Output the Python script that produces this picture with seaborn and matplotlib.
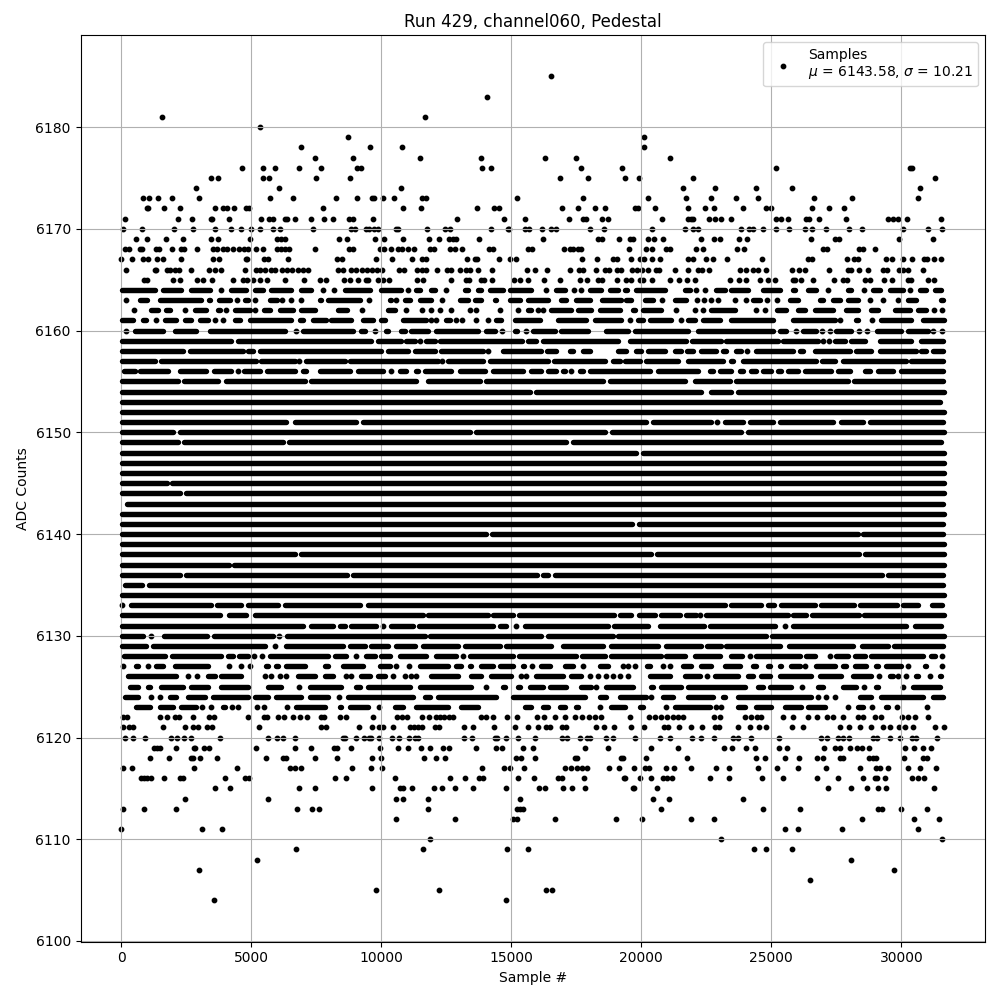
import matplotlib
matplotlib.use("Agg")
import matplotlib.pyplot as plt
import pandas as pd
import seaborn as sns

# sparse rows: individual samples, per ADC level
sparse_levels = [6185, 6183, 6181, 6180, 6179, 6178, 6177, 6176, 6175, 6174, 6173, 6172, 6171, 6170,
                 6169, 6168, 6167, 6166, 6165,
                 6122, 6121, 6120, 6119, 6118, 6117, 6116, 6115, 6114, 6113, 6112, 6111, 6110,
                 6109, 6108, 6107, 6106, 6105, 6104]
sparse_samples = [
    [16526],
    [14064],
    [1564, 11679],
    [5333],
    [8718, 20103],
    [6910, 9564, 10794, 20103],
    [7448, 8910, 11487, 13846, 16295, 17487, 21103],
    [4641, 5449, 5910, 6833, 7679, 9064, 9218, 13871, 14230, 17680, 19256, 25179, 30321, 30410],
    [3449, 3718, 5449, 5679, 7487, 8795, 16872, 17949, 19385, 19910, 21987, 31295],
    [2872, 6064, 10756, 21603, 22833, 24410, 25795, 30718],
    [833, 1064, 1410, 1949, 2987, 5718, 6602, 8256, 9064, 9641, 9705, 10064, 10487, 11564, 11718, 15218,
     17756, 20256, 21718, 22679, 23641, 24487, 26641, 28103, 30641],
    [987, 1038, 1641, 2256, 3602, 3910, 4064, 4333, 4795, 4897, 7756, 10833, 11525, 13679, 14333, 14525,
     16949, 17564, 18218, 18603, 19756, 19872, 20526, 21795, 22449, 22795, 23910, 24795, 24987, 26564,
     27218, 27795],
    [141, 2179, 2718, 3449, 3500, 4141, 5372, 5679, 5833, 6295, 6372, 6679, 7295, 7795, 8141, 8756, 8910,
     9679, 12910, 14718, 15525, 17218, 17756, 17872, 18487, 18718, 20795, 21795, 21910, 21987, 22603,
     22833, 23064, 23449, 25179, 25372, 25641, 26333, 26449, 26833, 27872, 29487, 29679, 29872, 30218, 31526],
    [64, 795, 2026, 2756, 3602, 4218, 4602, 4987, 5333, 5833, 6103, 7372, 8833, 8987, 9410, 9525, 9718,
     9872, 10564, 10641, 11756, 12449, 12641, 14218, 14872, 14923, 15525, 15679, 16180, 16526, 16718,
     18026, 18564, 20410, 21679, 21987, 22180, 23833, 24141, 24295, 24680, 25179, 25680, 26295, 26564,
     27103, 27987, 28487, 30064, 31026, 31564],
    [564, 987, 1718, 2372, 3449, 3718, 4949, 5987, 6141, 6295, 8372, 8679, 9756, 10102, 10833, 11833,
     12218, 12600, 12756, 12871, 13756, 16218, 18333, 18487, 19141, 19564, 19680, 20256, 20487, 20833,
     22295, 22795, 23026, 23756, 24064, 26526, 27449, 27603, 29910, 31218],
    [141, 295, 718, 795, 1333, 1449, 1949, 2295, 2410, 2910, 3525, 3680, 3910, 4064, 4295, 4525, 4718,
     4872, 5179, 5449, 5987, 6141, 6295, 6449, 7449, 8756, 8910, 9948, 10102, 10372, 10641, 10794, 11013,
     11256, 11871, 12026, 12641, 12833, 13102, 14141, 14295, 15641, 15795, 17026, 17256, 17372, 17564,
     17680, 19526, 20180, 20410, 20949, 21103, 22103, 22372, 23680, 23949, 26987, 27141, 28372, 28526, 28987],
    [0, 410, 833, 1026, 1372, 1603, 2295, 3525, 3756, 4795, 4833, 5487, 5641, 6410, 8295, 8487, 9795,
     10410, 11180, 11564, 11718, 13295, 13603, 13679, 14525, 14949, 15180, 17718, 18295, 18910, 19064,
     19603, 19949, 20103, 20410, 20718, 21795, 21987, 22487, 22756, 23295, 24641, 26410, 26564, 27910,
     28180, 28333, 29410, 29641, 30064, 30410, 30872, 30987, 31256, 31526],
    [180, 1295, 1333, 1756, 1872, 2064, 2218, 2680, 3372, 3602, 3833, 4756, 5179, 5333, 5525, 5756, 5910,
     6180, 6372, 6564, 6795, 6987, 7180, 8333, 8525, 8833, 9025, 9256, 9449, 9641, 9833, 10026, 10679,
     10871, 11372, 11564, 11718, 12141, 12526, 12679, 13026, 13256, 13410, 13718, 14256, 15603, 15910,
     16372, 17256, 17603, 17756, 18256, 18603, 18756, 19064, 19218, 19641, 19833, 20026, 20256, 20564,
     20679, 21295, 21795, 22180, 22333, 22603, 23795, 24026, 24295, 24487, 24795, 25795, 26064, 26295,
     27218, 27949, 28064, 28372, 28718, 29295, 29449, 29910, 30064, 30256, 30833],
    [872, 987, 1987, 2256, 2910, 3141, 3487, 4295, 4680, 4833, 5064, 5333, 5603, 6295, 7026, 7641, 7872,
     8564, 8795, 9103, 9410, 9487, 9872, 10064, 10295, 11372, 11603, 12679, 13256, 13372, 13833, 13949,
     14256, 15103, 15333, 15641, 16256, 16872, 17641, 17910, 18333, 18487, 19064, 19410, 19603, 19949,
     20064, 20410, 21103, 21449, 21756, 22064, 23410, 23756, 24026, 24564, 24872, 25141, 25833, 25910,
     26141, 26603, 27410, 27756, 27910, 28603, 28795, 29333, 29641, 30256, 30372, 31026, 31256],
    [64, 218, 1487, 1756, 2064, 2218, 2756, 3372, 3564, 4872, 5487, 5603, 6026, 6256, 6602, 6872, 7141,
     7680, 7795, 8410, 8641, 9679, 10603, 10795, 10987, 11564, 11833, 12103, 12256, 12410, 12603, 12756,
     13833, 14026, 14295, 14833, 15218, 15987, 16256, 16679, 17064, 17449, 17718, 17987, 18218, 18449,
     19551, 20295, 20526, 20756, 20987, 21218, 21410, 21603, 22795, 23026, 23987, 24218, 24449, 24603,
     25449, 25833, 26410, 26756, 27141, 27372, 27756, 28333, 28526, 28987, 29218, 30026, 30256, 30526, 31026],
    [64, 295, 449, 1603, 2449, 2756, 2948, 3295, 3487, 5295, 7680, 7872, 9141, 9641, 9910, 10064, 10449,
     11102, 11256, 11410, 11564, 12064, 12218, 13179, 13526, 14333, 15141, 15641, 16026, 16333, 16487,
     16949, 17103, 18256, 18564, 18949, 19603, 20103, 20872, 21026, 21449, 21910, 22333, 22833, 22987,
     23718, 24180, 24526, 24795, 25795, 26218, 27641, 27987, 28410, 28833, 29295, 29564, 29910, 30141,
     30449, 31295, 31641],
    [141, 449, 910, 1910, 2141, 2410, 2680, 3795, 5641, 5987, 6218, 6679, 8525, 8603, 9013, 9333, 9525,
     9603, 9910, 10410, 10679, 11064, 11295, 11410, 13179, 13487, 14372, 14449, 14795, 15256, 15910, 16949,
     17141, 17641, 17910, 18026, 18641, 18910, 19756, 20718, 21103, 21949, 22295, 22795, 23525, 23718,
     24218, 25295, 26910, 27141, 27564, 27756, 27987, 28910, 29064, 29564, 29948, 30410, 30564, 31372],
    [1256, 1372, 1487, 2103, 2795, 2833, 3179, 3372, 5179, 6679, 7295, 8179, 8295, 8833, 9948, 10641,
     11026, 11525, 11871, 12372, 12603, 13641, 14410, 14641, 15449, 15833, 17833, 18718, 20372, 21410,
     23180, 23487, 24026, 24372, 25295, 25603, 27026, 27449, 27641, 28013, 28295, 28487, 28756, 30141,
     30487, 30833, 31141],
    [1103, 1833, 2680, 2756, 3026, 3680, 5564, 6218, 6333, 7448, 8295, 9641, 9987, 11641, 12103, 12449,
     15180, 15372, 15910, 17449, 17526, 19218, 19295, 20180, 21756, 24410, 24756, 25538, 26064, 26756,
     26987, 27641, 27756, 28756, 28910, 29026, 30103, 30833, 30987],
    [64, 410, 2795, 4449, 6487, 6679, 6910, 8872, 9603, 10026, 13871, 14718, 14949, 15487, 17064, 17295,
     17526, 17718, 17910, 18756, 19141, 19718, 20141, 20295, 20949, 21256, 21923, 22872, 23372, 24487,
     25218, 26026, 27103, 28410, 29026, 29180, 29487, 30256, 30718, 31333],
    [756, 872, 987, 1141, 1641, 2256, 2372, 3987, 4756, 4910, 8218, 8641, 10526, 12641, 13218, 13756,
     13910, 15256, 15872, 16795, 16949, 17795, 19333, 19372, 19949, 20359, 20833, 20987, 21180, 22641,
     23372, 24641, 25449, 26756, 27564, 28526, 28987, 29064, 29372, 30410, 30641, 30872],
    [3602, 4179, 6833, 7448, 9641, 10718, 10833, 11180, 12026, 12333, 12833, 13526, 14795, 16064, 16295,
     16987, 17333, 17833, 19680, 19718, 20603, 27180, 28064, 28679, 29103, 29410, 31256],
    [2449, 5641, 10564, 10833, 11795, 15333, 20449, 21064, 23910],
    [64, 872, 2103, 6756, 7333, 7603, 11795, 15218, 15333, 15449, 20756, 24680, 26103, 29103, 29256,
     29987, 30987],
    [10564, 12833, 15064, 15218, 16679, 19026, 20026, 21910, 22795, 28487, 30487, 31449],
    [0, 3103, 3872, 25525, 26026, 27718, 30641],
    [11871, 23064, 31564],
    [6718, 11602, 14833, 15641, 24333, 24795, 25795],
    [5218, 28064],
    [2987, 29718],
    [26487],
    [9795, 12218, 16321, 16551],
    [3564, 14795],
]

# dense rows: the dots merge into runs, kept as (left edge, right edge) of each blob
dense_levels = list(range(6164, 6122, -1))
dense_runs = [
    [(0, 1346), (1538, 2372), (2628, 3461), (3846, 3846), (4167, 4872), (5064, 5513), (5705, 6602), (6859, 7372),
     (7756, 7756), (8179, 8179), (8525, 9615), (9936, 10833), (11026, 11026), (11282, 11538), (11859, 12115),
     (12500, 12500), (13141, 13397), (13654, 13910), (14100, 14743), (14872, 15833), (16346, 16346), (16667, 17115),
     (17410, 17410), (17680, 17680), (17949, 18525), (18718, 19167), (19295, 19513), (19744, 20962), (21603, 21923),
     (22115, 22115), (22462, 22462), (22820, 23269), (23397, 24167), (24615, 25385), (25769, 25962), (26346, 26795),
     (27179, 27179), (27885, 28141), (28564, 28564), (28846, 29231), (29487, 30128), (30346, 30346), (30641, 31026),
     (31218, 31603)],
    [(180, 180), (641, 1064), (1410, 3141), (3295, 3474), (3680, 4256), (4449, 4449), (4679, 4936), (5141, 5141),
     (5641, 6064), (6167, 6167), (6538, 6538), (6910, 6910), (7564, 7756), (7884, 9230), (9525, 9525), (10256, 10449),
     (10577, 10577), (10833, 11154), (11410, 11987), (12333, 12333), (12603, 12756), (12949, 13397), (13526, 13884),
     (14295, 14487), (14872, 15385), (15577, 16474), (16833, 17179), (17436, 18077), (18423, 19295), (19359, 19680),
     (20064, 20513), (20795, 20795), (21218, 21769), (22141, 22141), (22410, 22410), (22679, 22679), (22949, 22949),
     (23603, 23603), (24038, 24038), (24230, 24615), (24833, 24833), (25231, 25231), (25641, 26090), (26795, 27051),
     (27308, 27692), (27885, 28397), (28795, 28795), (29295, 29295), (29871, 29871), (30192, 30641), (31474, 31667)],
    [(64, 218), (487, 487), (1064, 1474), (1667, 1923), (2449, 2449), (2756, 3333), (3654, 3846), (4025, 4025),
     (4295, 5000), (5141, 5141), (5410, 5769), (6025, 6667), (6859, 7500), (8269, 8756), (9256, 9256), (10192, 10577),
     (10948, 10948), (11564, 11564), (11923, 11923), (12269, 12269), (12692, 12692), (13397, 13397), (13654, 13654),
     (14564, 14564), (14872, 15000), (15269, 15269), (15577, 15808), (16026, 16026), (16218, 16218), (16474, 17372),
     (17500, 18141), (18333, 19231), (19615, 19808), (20000, 20833), (21333, 21333), (21731, 21859), (22077, 22077),
     (22372, 22372), (22628, 23654), (24423, 24423), (24756, 24756), (25167, 25641), (25962, 26346), (26603, 27436),
     (27821, 28397), (28782, 29167), (29679, 30385), (30577, 31026), (31269, 31269), (31564, 31564)],
    [(0, 513), (769, 1026), (1346, 1346), (1603, 2180), (2372, 2756), (2949, 3397), (3602, 3602), (3910, 3910),
     (4295, 4615), (4872, 6602), (6795, 7051), (7308, 7948), (8013, 8910), (9231, 9743), (9936, 10192), (10769, 11795),
     (11923, 11923), (12115, 12115), (12436, 12692), (12885, 12885), (13103, 13103), (13654, 13654), (14103, 14103),
     (14359, 14679), (15064, 16154), (16731, 17949), (18141, 19295), (19551, 19551), (19808, 20128), (20256, 21218),
     (21538, 21538), (21731, 22115), (22308, 23077), (23397, 25128), (25449, 25577), (25769, 27500), (27654, 27654),
     (28205, 28397), (28872, 28872), (29167, 30449), (30769, 31730)],
    [(180, 180), (449, 1667), (1987, 2949), (3333, 6346), (6705, 6705), (6923, 8974), (9167, 9423), (9769, 9769),
     (10128, 10321), (10705, 10962), (11090, 11859), (12051, 13782), (13974, 14423), (14654, 14654), (15064, 15295),
     (15577, 15577), (15769, 16731), (16859, 18013), (18590, 19551), (19680, 21859), (22115, 25128), (25256, 25641),
     (25962, 25962), (26154, 26795), (26949, 26949), (27244, 27244), (27436, 28141), (28359, 28359), (28680, 28680),
     (29013, 30064), (30192, 31090), (31231, 31231), (31577, 31577)],
    [(0, 4295), (4423, 9679), (9808, 10833), (10897, 11346), (11474, 11474), (11654, 12115), (12180, 15474),
     (15577, 16026), (16154, 19167), (19487, 21795), (21900, 23141), (23205, 25320), (25385, 26859), (26987, 26987),
     (27205, 27205), (27372, 27885), (28013, 28654), (29103, 30449), (30705, 31667)],
    [(0, 2436), (2590, 4743), (4808, 5128), (5256, 10064), (10192, 11090), (11218, 12115), (12243, 13974),
     (14103, 14103), (14615, 16218), (16308, 16795), (17180, 17436), (17692, 18077), (19038, 19487), (19744, 20064),
     (20192, 20962), (21244, 21603), (21705, 22051), (22244, 22949), (23077, 23333), (23590, 23910), (24064, 24064),
     (24359, 25897), (26026, 26282), (26603, 28077), (28205, 28910), (29103, 30641), (30705, 31026), (31154, 31667)],
    [(0, 1346), (1474, 5256), (5320, 6730), (6833, 6833), (7051, 8654), (8743, 12243), (12346, 12346), (12500, 13974),
     (14103, 16474), (16577, 18654), (18846, 19231), (19295, 20000), (20128, 21474), (21731, 23205), (23372, 23590),
     (23846, 26795), (26885, 27500), (27692, 30256), (30320, 31667)],
    [(38, 577), (641, 1859), (2180, 3333), (3500, 4295), (4487, 4487), (4641, 5385), (5551, 6730), (6923, 7180),
     (7564, 8846), (9038, 10128), (10359, 10359), (10641, 11026), (11282, 11474), (11602, 12756), (12949, 14038),
     (14231, 15513), (15705, 16218), (16346, 16795), (16923, 17115), (17308, 17308), (17564, 17820), (17949, 20385),
     (20577, 22244), (22564, 22821), (22949, 23526), (23718, 23974), (24167, 24487), (24615, 25064), (25192, 25449),
     (25577, 26090), (26218, 27372), (27500, 28077), (28526, 28846), (29038, 29744), (29936, 31667)],
    [(0, 2244), (2346, 3782), (3974, 7116), (7244, 11410), (11730, 13846), (13974, 18590), (18718, 21731),
     (22013, 23461), (23590, 28013), (28115, 31667)],
    [(0, 15769), (15897, 22372), (22603, 23526), (23654, 31730)],
    [(0, 31538)],
    [(0, 31680)],
    [(0, 6410), (6628, 9102), (9231, 20256), (20385, 22756), (22910, 22910), (23141, 23974), (24103, 25128),
     (25256, 27436), (27628, 28590), (28718, 31667)],
    [(0, 2064), (2205, 13460), (13590, 18650), (18800, 23910), (24025, 31730)],
    [(0, 2244), (2346, 6282), (6372, 17170), (17310, 31580)],
    [(0, 19850), (19990, 31680)],
    [(0, 31700)],
    [(0, 31680)],
    [(0, 1800), (1900, 31700)],
    [(0, 2300), (2440, 31700)],
    [(170, 31650)],
    [(0, 31700)],
    [(0, 19700), (19840, 31650)],
    [(0, 14080), (14200, 28380), (28480, 31660)],
    [(0, 31680)],
    [(0, 6750), (6840, 20440), (20540, 28440), (28540, 31700)],
    [(0, 4190), (4270, 31680)],
    [(0, 2320), (2440, 8730), (8840, 16030), (16150, 16480), (16600, 29330), (29440, 31650)],
    [(64, 872), (1000, 31650)],
    [(0, 31700)],
    [(38, 38), (320, 3525), (3628, 4680), (4808, 6090), (6218, 9230), (9423, 23270), (23400, 24680), (24800, 25170),
     (25320, 26740), (26860, 28240), (28360, 29900), (30000, 30700), (31120, 31640)],
    [(0, 3846), (4090, 4872), (5064, 11667), (11730, 14167), (14231, 15128), (15218, 19013), (19103, 19680),
     (19833, 20577), (20705, 21539), (21667, 22180), (22270, 22270), (22436, 25705), (25770, 26410), (26500, 28423),
     (28500, 31730)],
    [(0, 7051), (7244, 8205), (8333, 8654), (8756, 9872), (10064, 10064), (10320, 11282), (11372, 14359),
     (14487, 14872), (15192, 15192), (15474, 18782), (18885, 20320), (20640, 22474), (22564, 25190), (25513, 25513),
     (25770, 30256), (30449, 31600)],
    [(0, 897), (1154, 1154), (1577, 3372), (3500, 5897), (6064, 6064), (6320, 11731), (11795, 16218), (16346, 18974),
     (19038, 24870), (24950, 31700)],
    [(0, 1026), (1154, 5577), (5897, 5897), (6282, 8590), (8718, 9423), (9551, 10320), (10513, 11346), (11539, 13013),
     (13141, 14615), (14743, 16603), (16923, 18590), (18782, 20705), (20900, 22372), (22474, 23141), (23205, 25385),
     (25603, 28205), (28423, 29551), (29654, 31667)],
    [(38, 1731), (1885, 3910), (4038, 4360), (4450, 4936), (5103, 5103), (5410, 5410), (5640, 8013), (8167, 8718),
     (9013, 9013), (9359, 9808), (9936, 10385), (10641, 11795), (12051, 12949), (13141, 13141), (13333, 15128),
     (15218, 17564), (17654, 18654), (18782, 20833), (20900, 21731), (21987, 23077), (23372, 23936), (24167, 24167),
     (24359, 26154), (26282, 26731), (27244, 27244), (27436, 28013), (28141, 28654), (28782, 30897), (31090, 31346),
     (31577, 31577)],
    [(64, 64), (513, 705), (1026, 1026), (1282, 1667), (1987, 3397), (4141, 4141), (4590, 4590), (4936, 4936),
     (5513, 5705), (5897, 6090), (6282, 7116), (7756, 8013), (8461, 9359), (9872, 10385), (10577, 10577), (11064, 11064),
     (11410, 12628), (12820, 13141), (13333, 13526), (13782, 14359), (14487, 15128), (15385, 15551), (15808, 15808),
     (16090, 16538), (16987, 17436), (17756, 17756), (18333, 18782), (19295, 19295), (19487, 19487), (19744, 19744),
     (20167, 20385), (20833, 20833), (21090, 21090), (21538, 21987), (22244, 22756), (23141, 23846), (24231, 24487),
     (24808, 25000), (25256, 25449), (25705, 26154), (26282, 26282), (26667, 27500), (27692, 27949), (28141, 28718),
     (28974, 29167), (29359, 30064), (30256, 30256), (30833, 31026), (31538, 31603)],
    [(192, 2180), (2564, 2564), (2910, 2910), (3269, 3654), (3782, 4679), (5513, 5513), (5769, 5769), (6090, 6090),
     (6346, 6346), (6730, 7500), (7756, 8205), (8654, 8654), (8846, 8846), (9167, 9615), (9808, 10192), (10449, 10449),
     (10897, 10897), (11154, 11154), (11346, 11346), (11859, 13013), (13397, 13910), (14167, 15064), (15385, 15385),
     (15577, 15577), (15897, 17051), (17244, 17756), (18013, 18013), (18333, 18333), (18654, 18654), (18910, 18910),
     (19167, 19167), (19487, 19487), (20256, 21154), (21603, 22308), (22526, 22526), (22756, 23782), (24038, 24359),
     (24551, 25000), (25256, 26603), (26795, 27756), (28077, 28910), (29141, 29141), (29487, 29744), (29872, 29872),
     (30167, 30167), (30513, 30705), (31090, 31090), (31410, 31603)],
    [(256, 705), (961, 1154), (1474, 2436), (2628, 3397), (3782, 4936), (5577, 6218), (6833, 6833), (7179, 8525),
     (8974, 9230), (9423, 11154), (11410, 13526), (14038, 14038), (14615, 14808), (15192, 15385), (15641, 16282),
     (16410, 17180), (17628, 18141), (18269, 18269), (18590, 19744), (20320, 20513), (20705, 21603), (21731, 24038),
     (24423, 24744), (24872, 25833), (26180, 26180), (26731, 27051), (27692, 28333), (28564, 28564), (28974, 29167),
     (29487, 29615), (30064, 30064), (30385, 31538)],
    [(64, 705), (1154, 1154), (1474, 1474), (1795, 2180), (2500, 3269), (3461, 4936), (5064, 5705), (5897, 6987),
     (7180, 8013), (8372, 8372), (8654, 11282), (11602, 11923), (12115, 14487), (15000, 17885), (18333, 18718),
     (19103, 20256), (20385, 20385), (20769, 21282), (21731, 22821), (23077, 23269), (23654, 26603), (26795, 26795),
     (27115, 27115), (27436, 27436), (28333, 28910), (29167, 30897), (31154, 31667)],
    [(513, 1154), (1410, 2051), (2244, 2949), (3103, 3103), (3461, 3461), (3846, 4038), (4256, 4256), (4487, 4487),
     (5218, 5218), (5487, 5487), (6372, 6372), (6667, 7884), (8333, 8525), (8718, 9551), (9910, 9910), (10449, 10897),
     (11282, 12628), (13013, 13782), (15000, 15128), (15449, 15833), (16154, 16474), (16795, 17115), (17436, 17628),
     (18397, 18397), (18782, 19423), (19872, 20128), (20962, 20962), (21218, 22692), (22859, 22859), (23077, 23077),
     (23654, 24038), (24359, 25064), (25449, 26218), (26346, 27115), (27500, 27628), (27949, 27949), (28269, 28590),
     (28872, 28872), (29359, 29551), (29833, 29833), (30577, 30705), (31000, 31000)],
]

title = "Run 429, channel060, Pedestal"
legend_label = "Samples\n$\\mu$ = 6143.58, $\\sigma$ = 10.21"

# run edges were read at the outside of the dots, the round line cap adds that radius back
cap_radius = 60

# flatten into tables for seaborn
point_rows = []
for level, samples in zip(sparse_levels, sparse_samples):
    for s in samples:
        point_rows.append((s, level))

run_rows = []
run_id = 0
for level, runs in zip(dense_levels, dense_runs):
    for start, end in runs:
        if end - start <= 2 * cap_radius:
            point_rows.append(((start + end) / 2, level))
        else:
            left = start + cap_radius if start > 0 else 25
            run_rows.append((run_id, left, level))
            run_rows.append((run_id, min(end - cap_radius, 31640), level))
            run_id += 1

points = pd.DataFrame(point_rows, columns=["sample", "adc"])
lines = pd.DataFrame(run_rows, columns=["run", "sample", "adc"])

fig, ax = plt.subplots(figsize=(10, 10), dpi=100)

sns.lineplot(data=lines, x="sample", y="adc", units="run", estimator=None, sort=False,
             color="k", linewidth=3.9, solid_capstyle="round", legend=False, ax=ax)
sns.scatterplot(data=points, x="sample", y="adc", marker=".", s=40, color="k",
                edgecolor="k", linewidth=1, label=legend_label, ax=ax)

ax.set_xlim(-1570, 33216)
ax.set_ylim(6099.95, 6189.05)
ax.grid(True)
ax.set_title(title)
ax.set_xlabel("Sample #")
ax.set_ylabel("ADC Counts")
ax.legend(loc="upper right")

fig.subplots_adjust(left=0.0805, right=0.985, top=0.965, bottom=0.0585)
fig.savefig("out.png", dpi=100)
